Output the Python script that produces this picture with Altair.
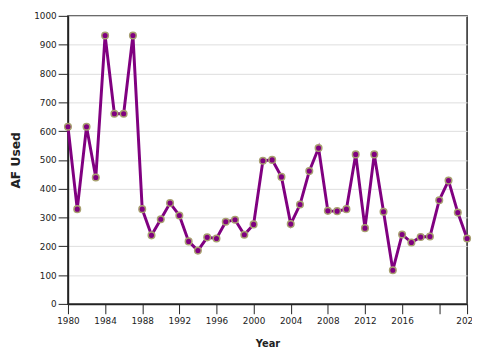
import altair as alt
import pandas as pd

years = list(range(1980, 2024))
af_used = [615, 329, 615, 439, 932, 660, 660, 932, 329, 238,
           294, 350, 307, 217, 185, 231, 227, 285, 292, 240,
           276, 497, 500, 441, 277, 345, 461, 541, 323, 322,
           329, 519, 263, 519, 320, 117, 241, 213, 232, 234,
           360, 428, 317, 227]

x_ticks = [1980, 1984, 1988, 1992, 1996, 2000, 2004, 2008, 2012, 2016, 2020, 2023]
y_ticks = [0, 100, 200, 300, 400, 500, 600, 700, 800, 900, 1000]

df = pd.DataFrame({"Year": years, "AF Used": af_used})

x = alt.X("Year:Q", scale=alt.Scale(domain=[1980, 2023], nice=False, zero=False),
          axis=alt.Axis(values=x_ticks, format="d", grid=False, tickSize=10,
                        labelFlush=False, labelOverlap=False, labelPadding=3,
                        labelExpr="datum.value == 2020 ? '' : datum.label",
                        titlePadding=13, titleFontSize=10))
y = alt.Y("AF Used:Q", scale=alt.Scale(domain=[0, 1000]),
          axis=alt.Axis(values=y_ticks, format="d", tickSize=10, labelPadding=2,
                        labelFlush=False, labelOverlap=False,
                        titlePadding=11, titleFontSize=12.5))

line = alt.Chart(df).mark_line(color="#800080", strokeWidth=3).encode(x=x, y=y)
pts = alt.Chart(df).mark_point(filled=True, fill="#800080", stroke="#a8a070",
                               strokeWidth=1.5, size=45, opacity=1).encode(x=x, y=y)

chart = (line + pts).properties(
    width=406, height=293,
    autosize=alt.AutoSizeParams(type="none"),
    padding={"left": 61, "top": 5, "right": 5, "bottom": 50},
).configure_view(
    stroke="#222", strokeWidth=1.5
).configure_axis(
    domainColor="#222", tickColor="#222", gridColor="#ddd", domainWidth=1.5,
    labelFont="DejaVu Sans", titleFont="DejaVu Sans", labelFontSize=9,
    labelColor="#222", titleColor="#222"
)

chart.save("out.html", embed_options={"renderer": "svg", "actions": False})
